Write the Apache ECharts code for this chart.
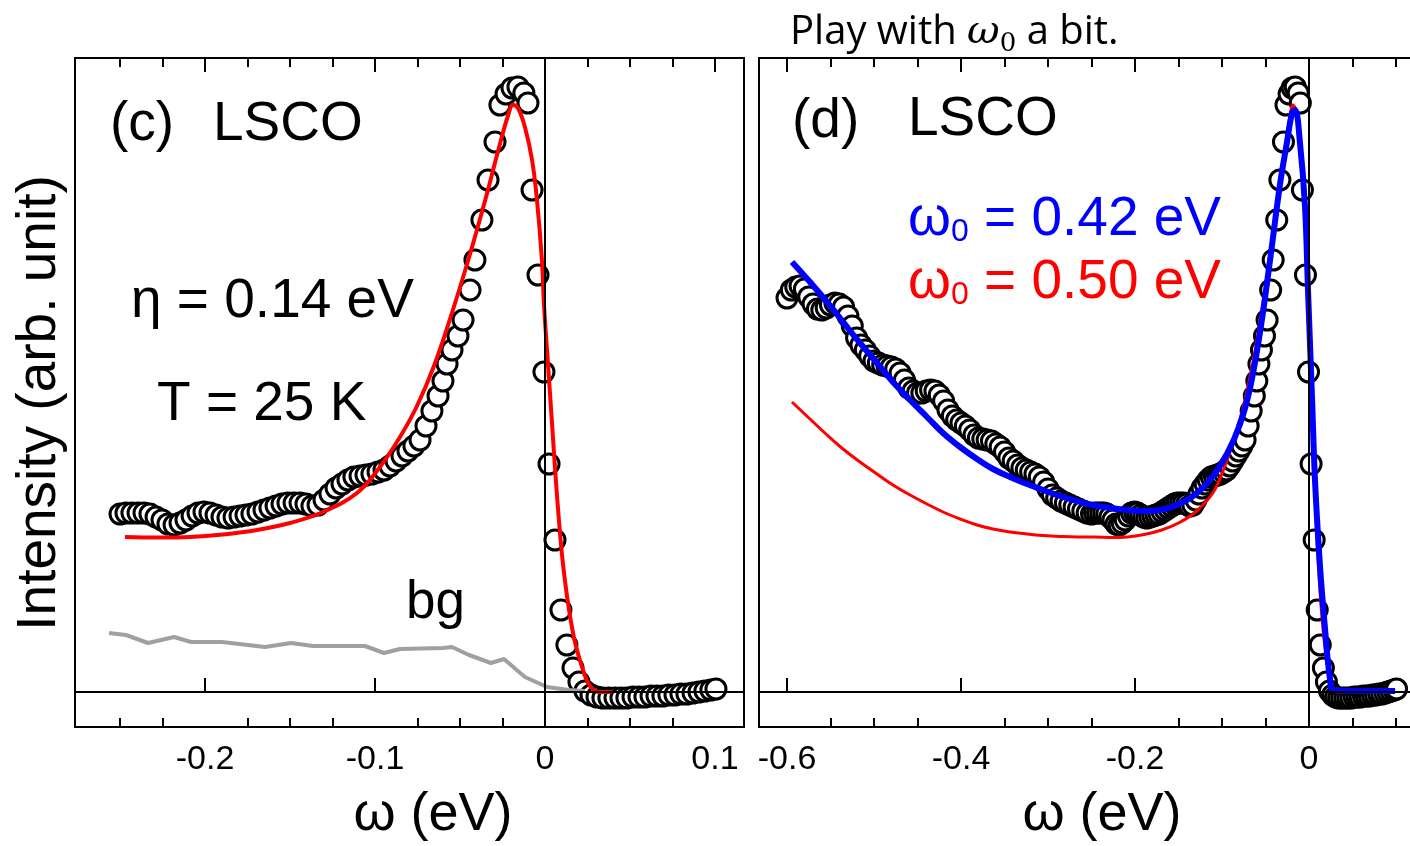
<!DOCTYPE html>
<html>
<head>
<meta charset="utf-8">
<title>LSCO EDC fits</title>
<script src="https://cdn.jsdelivr.net/npm/echarts@6/dist/echarts.min.js"></script>
<style>
  html, body { margin: 0; padding: 0; background: #fff; }
  #chart { width: 1410px; height: 846px; }
</style>
</head>
<body>
<div id="chart"></div>
<script>
// EDC data points [omega (eV), intensity (arb.)]
const edc = [
  [-0.600, 3.94], [-0.595, 4.02], [-0.590, 4.05], [-0.585, 4.06], [-0.580, 4.03],
  [-0.575, 3.95], [-0.570, 3.88], [-0.565, 3.83], [-0.560, 3.82], [-0.555, 3.84],
  [-0.550, 3.87], [-0.545, 3.89], [-0.540, 3.88], [-0.535, 3.85], [-0.530, 3.76],
  [-0.525, 3.66], [-0.520, 3.54], [-0.515, 3.47], [-0.510, 3.42], [-0.505, 3.36],
  [-0.500, 3.31], [-0.495, 3.29], [-0.490, 3.27], [-0.485, 3.26], [-0.480, 3.25],
  [-0.475, 3.23], [-0.470, 3.19], [-0.465, 3.12], [-0.460, 3.04], [-0.455, 3.01],
  [-0.450, 2.99], [-0.445, 2.99], [-0.440, 3.01], [-0.435, 3.02], [-0.430, 3.01],
  [-0.425, 2.97], [-0.420, 2.91], [-0.415, 2.82], [-0.410, 2.76], [-0.405, 2.72],
  [-0.400, 2.69], [-0.395, 2.66], [-0.390, 2.62], [-0.385, 2.57], [-0.380, 2.54],
  [-0.375, 2.53], [-0.370, 2.52], [-0.365, 2.51], [-0.360, 2.48], [-0.355, 2.45],
  [-0.350, 2.40], [-0.345, 2.34], [-0.340, 2.31], [-0.335, 2.27], [-0.330, 2.24],
  [-0.325, 2.22], [-0.320, 2.20], [-0.315, 2.18], [-0.310, 2.15], [-0.305, 2.10],
  [-0.300, 2.03], [-0.295, 1.97], [-0.290, 1.94], [-0.285, 1.91], [-0.280, 1.89],
  [-0.275, 1.87], [-0.270, 1.85], [-0.265, 1.83], [-0.260, 1.81], [-0.255, 1.79],
  [-0.2500, 1.78], [-0.2465, 1.79], [-0.2430, 1.79], [-0.2394, 1.79], [-0.2359, 1.79],
  [-0.2324, 1.78], [-0.2288, 1.75], [-0.2253, 1.72], [-0.2218, 1.68], [-0.2182, 1.67],
  [-0.2147, 1.69], [-0.2112, 1.72], [-0.2076, 1.76], [-0.2041, 1.79], [-0.2006, 1.80],
  [-0.1971, 1.79], [-0.1935, 1.77], [-0.1900, 1.75], [-0.1865, 1.74], [-0.1829, 1.75],
  [-0.1794, 1.76], [-0.1759, 1.77], [-0.1724, 1.78], [-0.1688, 1.80], [-0.1653, 1.82],
  [-0.1618, 1.84], [-0.1582, 1.86], [-0.1547, 1.88], [-0.1512, 1.89], [-0.1476, 1.89],
  [-0.1441, 1.89], [-0.1406, 1.88], [-0.1371, 1.86], [-0.1335, 1.87], [-0.1300, 1.92],
  [-0.1265, 1.98], [-0.1229, 2.04], [-0.1194, 2.08], [-0.1159, 2.12], [-0.1124, 2.15],
  [-0.1088, 2.16], [-0.1053, 2.17], [-0.1018, 2.18], [-0.0982, 2.20], [-0.0947, 2.22],
  [-0.0912, 2.26], [-0.0876, 2.31], [-0.0841, 2.36], [-0.0806, 2.41], [-0.0771, 2.46],
  [-0.0735, 2.52], [-0.0700, 2.66], [-0.0665, 2.81], [-0.0629, 2.96], [-0.0600, 3.11],
  [-0.0576, 3.28], [-0.0547, 3.42], [-0.0512, 3.56], [-0.0482, 3.72], [-0.0441, 4.02],
  [-0.0412, 4.32], [-0.0371, 4.72], [-0.0335, 5.12], [-0.0294, 5.50], [-0.0265, 5.87],
  [-0.0229, 5.98], [-0.0194, 6.04], [-0.0159, 6.05], [-0.0124, 5.99], [-0.0100, 5.89],
  [-0.0076, 5.02], [-0.0041, 4.17], [-0.0006, 3.20], [0.0024, 2.28], [0.0059, 1.52],
  [0.0094, 0.82], [0.0129, 0.47], [0.0165, 0.24], [0.0200, 0.10], [0.0235, 0.01],
  [0.0271, -0.03], [0.0306, -0.05], [0.0341, -0.06], [0.0376, -0.06], [0.0412, -0.06],
  [0.0447, -0.06], [0.0482, -0.06], [0.0518, -0.05], [0.0553, -0.05], [0.0588, -0.05],
  [0.0624, -0.04], [0.0659, -0.04], [0.0694, -0.04], [0.0729, -0.03], [0.0765, -0.03],
  [0.0800, -0.02], [0.0835, -0.02], [0.0871, -0.01], [0.0906, 0.00], [0.0941, 0.01],
  [0.0976, 0.02], [0.1006, 0.03]
]

// fit with omega0 = 0.50 eV (red), also the fit shown in panel (c)
const fitRed = [
  [-0.5943, 2.90], [-0.5736, 2.73], [-0.5540, 2.57], [-0.5356, 2.43], [-0.5161, 2.30],
  [-0.4966, 2.18], [-0.4782, 2.07], [-0.4586, 1.97], [-0.4391, 1.88], [-0.4207, 1.80],
  [-0.4011, 1.73], [-0.3816, 1.67], [-0.3632, 1.63], [-0.3437, 1.60], [-0.3241, 1.58],
  [-0.3057, 1.565], [-0.2862, 1.555], [-0.2667, 1.55], [-0.2471, 1.55], [-0.2265, 1.545],
  [-0.2088, 1.55], [-0.1894, 1.575], [-0.1694, 1.62], [-0.1500, 1.69], [-0.1306, 1.80],
  [-0.1106, 1.99], [-0.0971, 2.25], [-0.0853, 2.55], [-0.0753, 2.86], [-0.0653, 3.26],
  [-0.0553, 3.76], [-0.0453, 4.31], [-0.0353, 4.91], [-0.0265, 5.48], [-0.0218, 5.76],
  [-0.0188, 5.87], [-0.0159, 5.84], [-0.0118, 5.65], [-0.0076, 5.32], [-0.0047, 4.92],
  [-0.0018, 4.32], [-0.0006, 3.88], [0.0012, 3.42], [0.0035, 2.85], [0.0076, 1.85],
  [0.0112, 1.19], [0.0165, 0.59], [0.0218, 0.25], [0.0265, 0.06], [0.0324, 0.00],
  [0.0394, 0.00]
]

// fit with omega0 = 0.42 eV (blue)
const fitBlue = [
  [-0.5943, 4.30], [-0.5736, 4.10], [-0.5540, 3.90], [-0.5356, 3.70], [-0.5161, 3.49],
  [-0.4966, 3.29], [-0.4782, 3.10], [-0.4586, 2.92], [-0.4391, 2.75], [-0.4207, 2.59],
  [-0.4011, 2.45], [-0.3816, 2.33], [-0.3632, 2.23], [-0.3437, 2.15], [-0.3241, 2.08],
  [-0.3057, 2.02], [-0.2862, 1.96], [-0.2667, 1.91], [-0.2483, 1.87], [-0.2287, 1.84],
  [-0.2092, 1.82], [-0.1908, 1.81], [-0.1713, 1.82], [-0.1517, 1.87], [-0.1333, 1.96],
  [-0.1138, 2.12], [-0.0943, 2.38], [-0.0793, 2.68], [-0.0678, 3.04], [-0.0563, 3.60],
  [-0.0448, 4.32], [-0.0333, 5.08], [-0.0253, 5.50], [-0.0195, 5.79], [-0.0161, 5.82],
  [-0.0103, 5.48], [-0.0046, 4.85], [-0.0011, 4.00], [0.0034, 2.95], [0.0069, 2.11],
  [0.0126, 1.26], [0.0184, 0.63], [0.0241, 0.13], [0.0287, 0.02], [0.0552, 0.01],
  [0.0989, 0.01]
]

// background (grey, panel c)
const background = [
  [-0.2565, 0.59], [-0.2465, 0.57], [-0.2335, 0.49], [-0.2182, 0.55], [-0.2082, 0.50],
  [-0.1900, 0.50], [-0.1647, 0.45], [-0.1494, 0.49], [-0.1365, 0.46], [-0.1059, 0.46],
  [-0.0947, 0.39], [-0.0853, 0.43], [-0.0600, 0.44], [-0.0547, 0.45], [-0.0447, 0.37],
  [-0.0318, 0.29], [-0.0241, 0.33], [-0.0118, 0.15], [0.0012, 0.05], [0.0141, 0.02],
  [0.0235, 0.01]
]

// tick values
const ticksMajorC = [-0.2, -0.1, 0, 0.1]
const ticksMinorC = [-0.25, -0.225, -0.175, -0.15, -0.125, -0.075, -0.05, -0.025, 0.025, 0.05, 0.075]
const ticksMajorD = [-0.6, -0.4, -0.2, 0]
const ticksMinorD = [-0.55, -0.5, -0.45, -0.35, -0.3, -0.25, -0.15, -0.1, -0.05, 0.05, 0.1]

const FONT = '"Liberation Sans", Arial, Helvetica, sans-serif'

// panel c only shows omega >= -0.25
const inC = p => p[0] >= -0.2505

function tickAxes (gridIndex, min, max, major, minor) {
  const base = {
    type: 'value',
    gridIndex: gridIndex,
    min: min,
    max: max,
    axisLine: { show: false },
    splitLine: { show: false }
  }
  const tickStyle = { color: '#000', width: 2 }
  return [
    Object.assign({}, base, {
      position: 'bottom',
      axisTick: { inside: true, length: 14, customValues: major, lineStyle: tickStyle },
      axisLabel: {
        customValues: major,
        margin: 16,
        fontSize: 34,
        fontFamily: FONT,
        color: '#000',
        formatter: v => String(v)
      }
    }),
    Object.assign({}, base, {
      position: 'bottom',
      axisTick: { inside: true, length: 9, customValues: minor, lineStyle: tickStyle },
      axisLabel: { show: false }
    }),
    Object.assign({}, base, {
      position: 'top',
      axisTick: { inside: true, length: 14, customValues: major, lineStyle: tickStyle },
      axisLabel: { show: false }
    }),
    Object.assign({}, base, {
      position: 'top',
      axisTick: { inside: true, length: 9, customValues: minor, lineStyle: tickStyle },
      axisLabel: { show: false }
    })
  ]
}

const zeroLines = {
  silent: true,
  symbol: ['none', 'none'],
  label: { show: false },
  lineStyle: { color: '#000', width: 2, type: 'solid' },
  data: [{ xAxis: 0 }, { yAxis: 0 }]
}

const circleStyle = { color: '#fff', borderColor: '#000', borderWidth: 3, opacity: 1 }

const myChart = echarts.init(document.getElementById('chart'))

const option = {
  animation: false,
  backgroundColor: '#fff',
  grid: [
    { left: 75, top: 58, width: 669, height: 669, show: true, borderColor: '#000', borderWidth: 2, outerBoundsMode: 'none' },
    { left: 759, top: 58, width: 654, height: 669, show: true, borderColor: '#000', borderWidth: 2, outerBoundsMode: 'none' }
  ],
  xAxis: [].concat(
    tickAxes(0, -0.2765, 0.1171, ticksMajorC, ticksMinorC),
    tickAxes(1, -0.6322, 0.1195, ticksMajorD, ticksMinorD)
  ),
  yAxis: [
    { type: 'value', gridIndex: 0, min: -0.35, max: 6.34, show: false, splitLine: { show: false } },
    { type: 'value', gridIndex: 1, min: -0.35, max: 6.34, show: false, splitLine: { show: false } }
  ],
  series: [
    // panel (c)
    {
      name: 'bg',
      type: 'line',
      xAxisIndex: 0,
      yAxisIndex: 0,
      data: background,
      showSymbol: false,
      lineStyle: { color: '#a0a0a0', width: 4 }
    },
    {
      name: 'EDC c',
      type: 'scatter',
      xAxisIndex: 0,
      yAxisIndex: 0,
      z: 1,
      data: edc.filter(inC),
      symbol: 'circle',
      symbolSize: 20,
      itemStyle: circleStyle
    },
    {
      name: 'fit c',
      type: 'line',
      xAxisIndex: 0,
      yAxisIndex: 0,
      data: fitRed.filter(inC),
      showSymbol: false,
      smooth: 0.4,
      lineStyle: { color: '#ff0000', width: 4 },
      markLine: zeroLines
    },
    // panel (d)
    {
      name: 'EDC d',
      type: 'scatter',
      xAxisIndex: 4,
      yAxisIndex: 1,
      z: 1,
      data: edc,
      symbol: 'circle',
      symbolSize: 20,
      itemStyle: circleStyle
    },
    {
      name: 'fit 0.50',
      type: 'line',
      xAxisIndex: 4,
      yAxisIndex: 1,
      data: fitRed,
      showSymbol: false,
      smooth: 0.4,
      lineStyle: { color: '#ff0000', width: 3 },
      markLine: zeroLines
    },
    {
      name: 'fit 0.42',
      type: 'line',
      xAxisIndex: 4,
      yAxisIndex: 1,
      data: fitBlue,
      showSymbol: false,
      smooth: 0.4,
      lineStyle: { color: '#0000ff', width: 6 }
    }
  ],
  graphic: [
    {
      type: 'text', x: 790, y: 33,
      style: {
        text: '{a|Play with }{w|ω}{s|0}{a| a bit.}',
        align: 'left',
        verticalAlign: 'middle',
        rich: {
          a: { fontSize: 40, fontFamily: '"Open Sans", "Noto Sans", sans-serif', fill: '#000', lineHeight: 48 },
          w: { fontSize: 40, fontFamily: '"DejaVu Serif", serif', fontStyle: 'italic', fill: '#000', lineHeight: 48 },
          s: { fontSize: 26, fontFamily: '"DejaVu Serif", serif', fill: '#000', lineHeight: 24, verticalAlign: 'bottom' }
        }
      }
    },
    { type: 'text', x: 110, y: 125, style: { text: '(c)', fontSize: 55, fontFamily: FONT, fill: '#000', align: 'left', verticalAlign: 'middle' } },
    { type: 'text', x: 213, y: 125, style: { text: 'LSCO', fontSize: 55, fontFamily: FONT, fill: '#000', align: 'left', verticalAlign: 'middle' } },
    { type: 'text', x: 131, y: 302, style: { text: 'η = 0.14 eV', fontSize: 55, fontFamily: FONT, fill: '#000', align: 'left', verticalAlign: 'middle' } },
    { type: 'text', x: 157, y: 405, style: { text: 'T = 25 K', fontSize: 55, fontFamily: FONT, fill: '#000', align: 'left', verticalAlign: 'middle' } },
    { type: 'text', x: 406, y: 603, style: { text: 'bg', fontSize: 53, fontFamily: FONT, fill: '#000', align: 'left', verticalAlign: 'middle' } },
    { type: 'text', x: 792, y: 122, style: { text: '(d)', fontSize: 55, fontFamily: FONT, fill: '#000', align: 'left', verticalAlign: 'middle' } },
    { type: 'text', x: 908, y: 120, style: { text: 'LSCO', fontSize: 55, fontFamily: FONT, fill: '#000', align: 'left', verticalAlign: 'middle' } },
    {
      type: 'text', x: 908, y: 220,
      style: {
        text: '{w|ω}{s|0}{t| = 0.42 eV}',
        align: 'left',
        verticalAlign: 'middle',
        rich: {
          w: { fontSize: 55, fontFamily: FONT, fill: '#0000ff', lineHeight: 56 },
          s: { fontSize: 32, fontFamily: FONT, fill: '#0000ff', lineHeight: 26, verticalAlign: 'bottom' },
          t: { fontSize: 55, fontFamily: FONT, fill: '#0000ff', lineHeight: 56 }
        }
      }
    },
    {
      type: 'text', x: 908, y: 283,
      style: {
        text: '{w|ω}{s|0}{t| = 0.50 eV}',
        align: 'left',
        verticalAlign: 'middle',
        rich: {
          w: { fontSize: 55, fontFamily: FONT, fill: '#ff0000', lineHeight: 56 },
          s: { fontSize: 32, fontFamily: FONT, fill: '#ff0000', lineHeight: 26, verticalAlign: 'bottom' },
          t: { fontSize: 55, fontFamily: FONT, fill: '#ff0000', lineHeight: 56 }
        }
      }
    },
    { type: 'text', x: 433, y: 815, style: { text: 'ω (eV)', fontSize: 54, fontFamily: FONT, fill: '#000', align: 'center', verticalAlign: 'middle' } },
    { type: 'text', x: 1102, y: 815, style: { text: 'ω (eV)', fontSize: 54, fontFamily: FONT, fill: '#000', align: 'center', verticalAlign: 'middle' } },
    { type: 'text', x: 40, y: 403, rotation: Math.PI / 2, style: { text: 'Intensity (arb. unit)', fontSize: 55, fontFamily: FONT, fill: '#000', align: 'center', verticalAlign: 'middle' } }
  ]
}

myChart.setOption(option, true)
</script>
</body>
</html>
